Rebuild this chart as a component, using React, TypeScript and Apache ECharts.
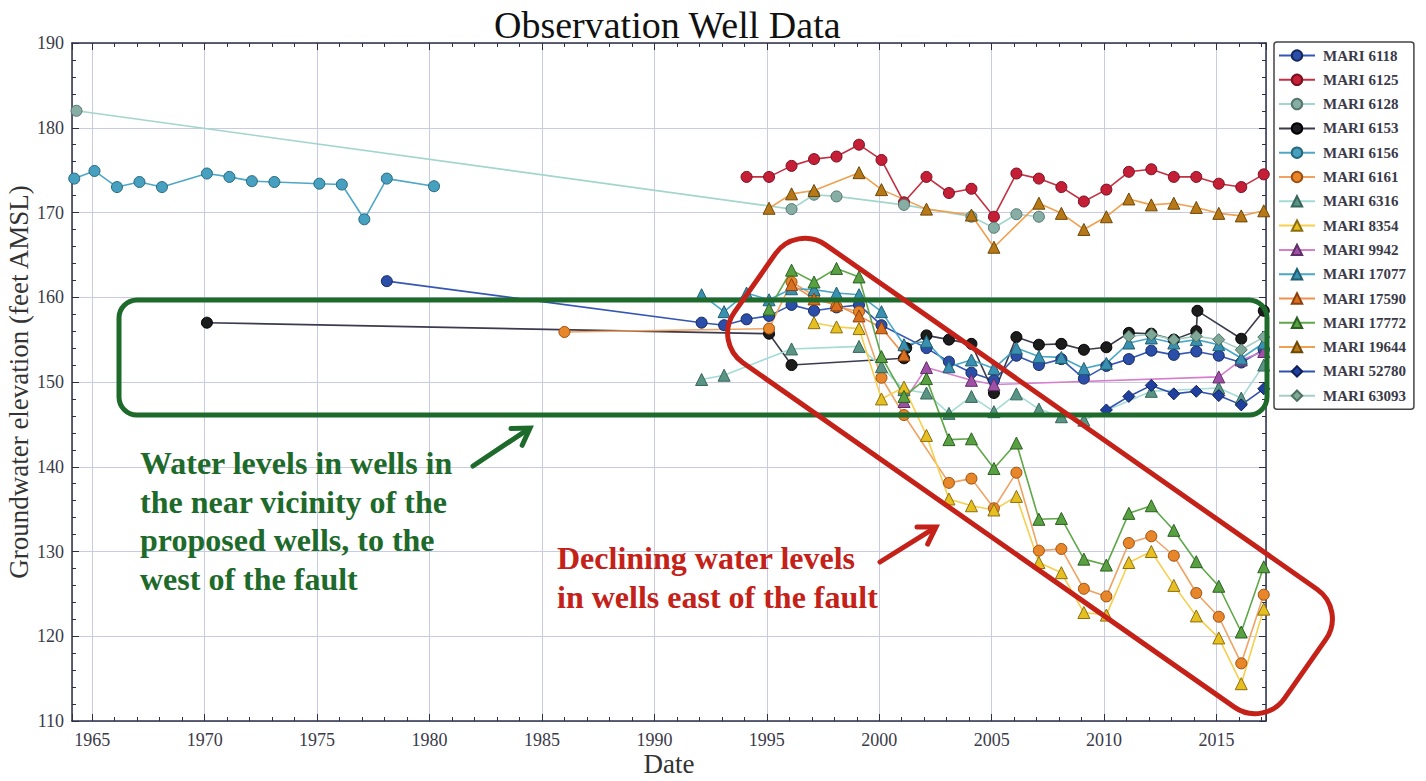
import React, { useEffect, useRef } from "react";
import * as echarts from "echarts";

type Pt = [number, number];

// ---- data (year, groundwater elevation ft AMSL) ----
const mari6118: Pt[] = [[1978.1,161.9],[1992.1,157.0],[1993.1,156.7],[1994.1,157.4],[1995.1,157.8],[1996.1,159.1],[1997.1,158.4],[1998.1,158.8],[1999.1,159.1],[2000.1,156.7],[2002.1,154.0],[2003.1,152.4],[2004.1,151.1],[2005.1,150.2],[2006.1,153.1],[2007.1,152.0],[2008.1,152.7],[2009.1,150.4],[2010.1,151.9],[2011.1,152.7],[2012.1,153.7],[2013.1,153.2],[2014.1,153.6],[2015.1,153.1],[2016.1,152.3],[2017.1,153.8]];
const mari6125: Pt[] = [[1994.1,174.2],[1995.1,174.2],[1996.1,175.5],[1997.1,176.3],[1998.1,176.6],[1999.1,178.0],[2000.1,176.2],[2001.1,171.2],[2002.1,174.2],[2003.1,172.3],[2004.1,172.8],[2005.1,169.5],[2006.1,174.6],[2007.1,174.0],[2008.1,173.0],[2009.1,171.3],[2010.1,172.7],[2011.1,174.8],[2012.1,175.1],[2013.1,174.2],[2014.1,174.2],[2015.1,173.4],[2016.1,173.0],[2017.1,174.5]];
const mari6128: Pt[] = [[1964.3,182.0],[1996.1,170.4],[1997.1,172.1],[1998.1,171.9],[2001.1,170.9],[2004.1,169.5],[2005.1,168.2],[2006.1,169.8],[2007.1,169.5]];
const mari6153: Pt[] = [[1970.1,157.0],[1995.1,155.7],[1996.1,152.0],[2001.1,152.8],[2001.2,154.0],[2002.1,155.5],[2003.1,155.0],[2004.1,154.5],[2005.1,148.7],[2006.1,155.3],[2007.1,154.4],[2008.1,154.5],[2009.1,153.8],[2010.1,154.1],[2011.1,155.8],[2012.1,155.7],[2013.1,155.0],[2014.1,156.0],[2014.15,158.4],[2016.1,155.1],[2017.1,158.4]];
const mari6156: Pt[] = [[1964.2,174.0],[1965.1,174.9],[1966.1,173.0],[1967.1,173.6],[1968.1,173.0],[1970.1,174.6],[1971.1,174.2],[1972.1,173.7],[1973.1,173.6],[1975.1,173.4],[1976.1,173.3],[1977.1,169.2],[1978.1,174.0],[1980.2,173.1]];
const mari6161: Pt[] = [[1986.0,155.9],[1995.1,156.3],[1996.1,161.8],[1997.1,160.2],[1998.1,158.9],[1999.1,158.3],[2000.1,150.5],[2001.1,146.1],[2003.1,138.1],[2004.1,138.6],[2005.1,135.1],[2006.1,139.3],[2007.1,130.1],[2008.1,130.3],[2009.1,125.6],[2010.1,124.7],[2011.1,131.0],[2012.1,131.8],[2013.1,129.5],[2014.1,125.1],[2015.1,122.3],[2016.1,116.8],[2017.1,124.9]];
const mari6316: Pt[] = [[1992.1,150.3],[1993.1,150.8],[1996.1,153.9],[1999.1,154.2],[2000.1,151.8],[2001.1,149.1],[2002.1,148.7],[2003.1,146.3],[2004.1,148.3],[2005.1,146.5],[2006.1,148.6],[2007.1,146.8],[2008.1,145.9],[2009.1,145.5],[2012.1,148.9],[2015.1,149.3],[2016.1,148.1],[2017.1,152.0]];
const mari8354: Pt[] = [[1997.1,157.0],[1998.1,156.5],[1999.1,156.3],[2000.1,148.0],[2001.1,149.4],[2002.1,143.7],[2003.1,136.2],[2004.1,135.4],[2005.1,134.9],[2006.1,136.5],[2007.1,128.7],[2008.1,127.5],[2009.1,122.8],[2010.1,122.5],[2011.1,128.7],[2012.1,130.0],[2013.1,126.0],[2014.1,122.4],[2015.1,119.8],[2016.1,114.4],[2017.1,123.2]];
const mari9942: Pt[] = [[2001.1,147.7],[2002.1,151.7],[2004.1,150.2],[2005.1,149.7],[2015.1,150.6],[2016.1,152.6],[2017.1,153.6]];
const mari17077: Pt[] = [[1992.1,160.3],[1993.1,158.3],[1994.1,160.5],[1995.1,159.7],[1996.1,161.0],[1997.1,160.9],[1998.1,160.5],[1999.1,160.3],[2000.1,158.3],[2001.1,154.4],[2002.1,154.8],[2003.1,151.8],[2004.1,152.6],[2005.1,151.6],[2006.1,154.0],[2007.1,153.0],[2008.1,152.9],[2009.1,151.6],[2010.1,152.2],[2011.1,154.6],[2012.1,155.2],[2013.1,154.6],[2014.1,155.0],[2015.1,154.4],[2016.1,152.8],[2017.1,154.6]];
const mari17590: Pt[] = [[1996.1,161.5],[1997.1,159.8],[1998.1,159.1],[1999.1,157.8],[2000.1,156.4],[2001.1,153.2]];
const mari17772: Pt[] = [[1995.1,158.6],[1996.1,163.2],[1997.1,161.8],[1998.1,163.4],[1999.1,162.4],[2000.1,153.0],[2001.1,148.3],[2002.1,150.4],[2003.1,143.2],[2004.1,143.3],[2005.1,139.8],[2006.1,142.8],[2007.1,133.8],[2008.1,133.9],[2009.1,129.1],[2010.1,128.4],[2011.1,134.5],[2012.1,135.4],[2013.1,132.5],[2014.1,128.8],[2015.1,125.9],[2016.1,120.5],[2017.1,128.2]];
const mari19644: Pt[] = [[1995.1,170.5],[1996.1,172.2],[1997.1,172.6],[1999.1,174.7],[2000.1,172.7],[2002.1,170.4],[2004.1,169.7],[2005.1,165.9],[2007.1,171.1],[2008.1,169.9],[2009.1,168.0],[2010.1,169.5],[2011.1,171.6],[2012.1,170.9],[2013.1,171.1],[2014.1,170.6],[2015.1,169.9],[2016.1,169.6],[2017.1,170.2]];
const mari52780: Pt[] = [[2010.1,146.7],[2011.1,148.3],[2012.1,149.6],[2013.1,148.6],[2014.1,148.9],[2015.1,148.4],[2016.1,147.3],[2017.1,149.2]];
const mari63093: Pt[] = [[2011.1,155.4],[2012.1,155.6],[2013.1,155.0],[2014.1,155.4],[2015.1,155.0],[2016.1,153.8],[2017.1,155.3]];

const wellNames = ["MARI 6118","MARI 6125","MARI 6128","MARI 6153","MARI 6156","MARI 6161","MARI 6316","MARI 8354","MARI 9942","MARI 17077","MARI 17590","MARI 17772","MARI 19644","MARI 52780","MARI 63093"];
const wellData: Pt[][] = [mari6118,mari6125,mari6128,mari6153,mari6156,mari6161,mari6316,mari8354,mari9942,mari17077,mari17590,mari17772,mari19644,mari52780,mari63093];

const xMin = 1964.1;
const xMax = 2017.2;
const yMin = 110;
const yMax = 190;

// ---- styles ----
const wellStyles = [
  { symbol: "circle", fill: "#2b4fa8", border: "#15275e", line: "#3656b4" },
  { symbol: "circle", fill: "#c51f38", border: "#7a0f1e", line: "#c52f42" },
  { symbol: "circle", fill: "#86aea4", border: "#56776d", line: "#a3d6ca" },
  { symbol: "circle", fill: "#1c1c1c", border: "#000000", line: "#3b3b4d" },
  { symbol: "circle", fill: "#47a0bf", border: "#26687e", line: "#4fa7c6" },
  { symbol: "circle", fill: "#e8862a", border: "#9c4f10", line: "#f0a262" },
  { symbol: "triangle", fill: "#5a9484", border: "#36665a", line: "#a3dbd5" },
  { symbol: "triangle", fill: "#e6c021", border: "#8c6e0e", line: "#f7cf4f" },
  { symbol: "triangle", fill: "#a04fa7", border: "#5e2f66", line: "#d67fcd" },
  { symbol: "triangle", fill: "#3a90b0", border: "#1f5f70", line: "#47a7c7" },
  { symbol: "triangle", fill: "#d8701f", border: "#8e3f0e", line: "#f0904f" },
  { symbol: "triangle", fill: "#58a041", border: "#2a6020", line: "#5fa748" },
  { symbol: "triangle", fill: "#b77818", border: "#6e4707", line: "#f0a04f" },
  { symbol: "diamond", fill: "#2040a0", border: "#0f1f58", line: "#2f50b0" },
  { symbol: "diamond", fill: "#80a898", border: "#4a7060", line: "#a6cfc3" },
];

const SERIF = "'Liberation Serif', 'DejaVu Serif', serif";
const GREEN = "#1d6a2b";
const RED = "#c42119";

function arrow(x1: number, y1: number, x2: number, y2: number, color: string) {
  const dx = x2 - x1, dy = y2 - y1;
  const len = Math.hypot(dx, dy);
  const ux = dx / len, uy = dy / len;
  const head = 19, ang = (32 * Math.PI) / 180;
  const c = Math.cos(ang), s = Math.sin(ang);
  const w1 = [x2 - head * (ux * c - uy * s), y2 - head * (ux * s + uy * c)];
  const w2 = [x2 - head * (ux * c + uy * s), y2 - head * (-ux * s + uy * c)];
  return [
    { type: "line", z: 100, shape: { x1, y1, x2: x2 - ux * 2, y2: y2 - uy * 2 }, style: { stroke: color, lineWidth: 5, lineCap: "round" } },
    { type: "polyline", z: 100, shape: { points: [w1, [x2, y2], w2] }, style: { stroke: color, lineWidth: 5, fill: "none", lineJoin: "miter", lineCap: "round" } },
  ];
}

export default function App() {
  const ref = useRef<HTMLDivElement>(null);
  useEffect(() => {
    if (!ref.current) return;
    const chart = echarts.init(ref.current, undefined, { renderer: "svg" });
    const axisColor = "#2c2f48";
    const labelStyle = { fontFamily: SERIF, fontSize: 18, color: "#3a3a48" };
    const series = wellNames.map((name, i) => ({
      name,
      type: "line",
      data: wellData[i],
      symbol: wellStyles[i].symbol,
      symbolSize: wellStyles[i].symbol === "circle" ? 11 : 12,
      lineStyle: { color: wellStyles[i].line, width: 1.6 },
      itemStyle: { color: wellStyles[i].fill, borderColor: wellStyles[i].border, borderWidth: 1 },
      emphasis: { disabled: true },
      z: 2,
    }));
    chart.setOption({
      animation: false,
      backgroundColor: "#ffffff",
      title: {
        text: "Observation Well Data",
        left: 489,
        top: 1,
        textStyle: { fontFamily: SERIF, fontSize: 38, fontWeight: "normal", color: "#111" },
      },
      legend: {
        orient: "vertical",
        left: 1274,
        top: 42,
        padding: [6, 8, 6, 4],
        itemWidth: 36,
        itemHeight: 13,
        itemGap: 9.3,
        selectedMode: false,
        borderColor: "#444",
        borderWidth: 1.5,
        borderRadius: 3,
        textStyle: { fontFamily: SERIF, fontSize: 15, fontWeight: "bold", color: "#3a3a48", padding: [0, 0, 0, 3] },
        data: wellNames,
      },
      grid: { left: 72, right: 160, top: 43, bottom: 60, show: false, containLabel: false, outerBoundsMode: "none" },
      xAxis: [
        {
          type: "value",
          min: xMin,
          max: xMax,
          splitNumber: 10,
          name: "Date",
          nameLocation: "middle",
          nameGap: 29,
          nameMoveOverlap: false,
          nameTextStyle: { fontFamily: SERIF, fontSize: 27, color: "#333", verticalAlign: "top" },
          axisLine: { show: true, onZero: false, lineStyle: { color: axisColor, width: 1.5 } },
          axisTick: { show: true, inside: true, length: 7, lineStyle: { color: axisColor } },
          minorTick: { show: true, splitNumber: 5, length: 4, lineStyle: { color: axisColor } },
          axisLabel: { ...labelStyle, margin: 10, showMinLabel: false, showMaxLabel: false, formatter: (v: number) => String(Math.round(v)) },
          splitLine: { show: true, lineStyle: { color: "#c8cbe2", width: 1 } },
        },
        {
          type: "value",
          position: "top",
          min: xMin,
          max: xMax,
          splitNumber: 10,
          axisLine: { show: true, onZero: false, lineStyle: { color: axisColor, width: 1.5 } },
          axisTick: { show: true, inside: true, length: 7, lineStyle: { color: axisColor } },
          minorTick: { show: true, splitNumber: 5, length: 4, lineStyle: { color: axisColor } },
          axisLabel: { show: false },
          splitLine: { show: false },
        },
      ],
      yAxis: [
        {
          type: "value",
          min: yMin,
          max: yMax,
          interval: 10,
          name: "Groundwater elevation (feet AMSL)",
          nameLocation: "middle",
          nameGap: 40,
          nameMoveOverlap: false,
          nameRotate: 90,
          nameTextStyle: { fontFamily: SERIF, fontSize: 27, color: "#333" },
          axisLine: { show: true, onZero: false, lineStyle: { color: axisColor, width: 1.5 } },
          axisTick: { show: true, inside: true, length: 7, lineStyle: { color: axisColor } },
          minorTick: { show: true, splitNumber: 5, length: 4, lineStyle: { color: axisColor } },
          axisLabel: { ...labelStyle, margin: 8 },
          splitLine: { show: true, lineStyle: { color: "#c8cbe2", width: 1 } },
        },
        {
          type: "value",
          position: "right",
          min: yMin,
          max: yMax,
          interval: 10,
          axisLine: { show: true, onZero: false, lineStyle: { color: axisColor, width: 1.5 } },
          axisTick: { show: true, inside: true, length: 7, lineStyle: { color: axisColor } },
          minorTick: { show: true, splitNumber: 5, length: 4, lineStyle: { color: axisColor } },
          axisLabel: { show: false },
          splitLine: { show: false },
        },
      ],
      series,
      graphic: [
        {
          type: "rect",
          z: 100,
          shape: { x: 119, y: 300, width: 1148, height: 115, r: 18 },
          style: { fill: "none", stroke: GREEN, lineWidth: 5 },
        },
        {
          type: "rect",
          z: 100,
          x: 1030,
          y: 476,
          rotation: (-35 * Math.PI) / 180,
          shape: { x: -336, y: -72, width: 672, height: 144, r: 36 },
          style: { fill: "none", stroke: RED, lineWidth: 5 },
        },
        ...arrow(473, 466, 530, 428, GREEN),
        ...arrow(880, 562, 936, 527, RED),
        {
          type: "text",
          z: 100,
          x: 140,
          y: 444,
          style: {
            text: "Water levels in wells in\nthe near vicinity of the\nproposed wells, to the\nwest of the fault",
            fill: GREEN,
            fontFamily: SERIF,
            fontWeight: "bold",
            fontSize: 32,
            lineHeight: 38.5,
          },
        },
        {
          type: "text",
          z: 100,
          x: 557,
          y: 539,
          style: {
            text: "Declining water levels\nin wells east of the fault",
            fill: RED,
            fontFamily: SERIF,
            fontWeight: "bold",
            fontSize: 32,
            lineHeight: 38.5,
          },
        },
      ],
    });
    return () => chart.dispose();
  }, []);
  return <div ref={ref} style={{ position: "fixed", left: 0, top: 0, width: 1426, height: 781 }} />;
}
